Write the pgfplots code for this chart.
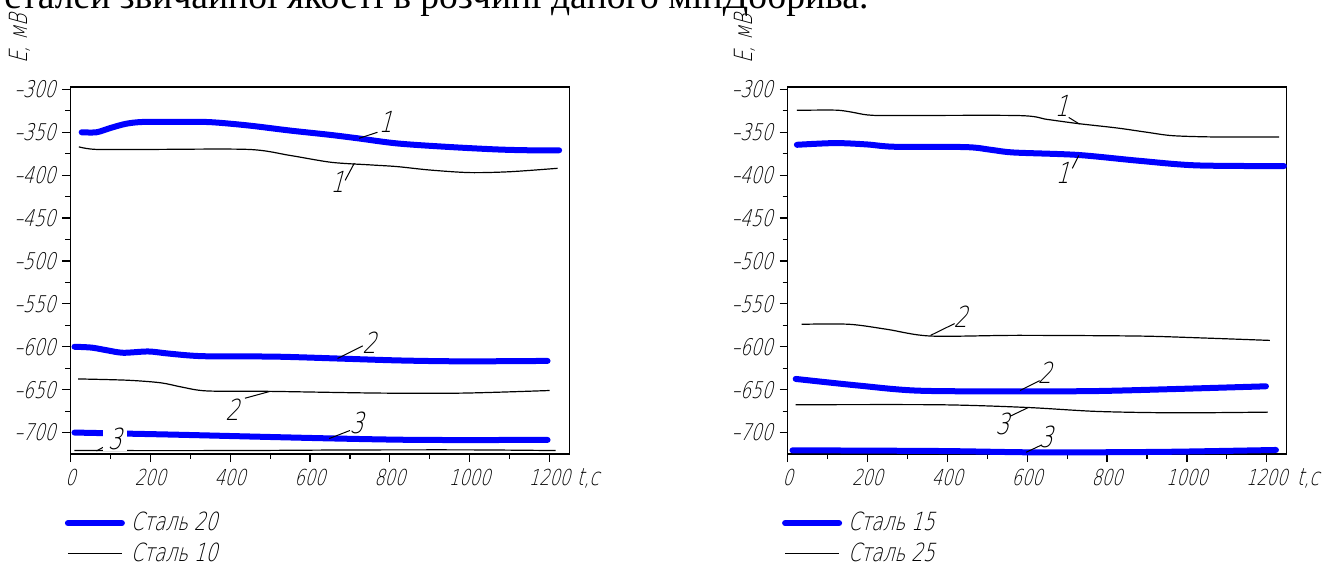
\documentclass[border=0pt]{standalone}
\usepackage{pgfplots}
\pgfplotsset{compat=1.18}
\usepackage{fontspec}
\setmainfont{DejaVu Sans}
\newfontfamily\gost{DejaVu Sans ExtraLight}[FakeSlant=0.27,FakeStretch=0.74]
\newfontfamily\tnr{Liberation Serif}
\definecolor{cblue}{RGB}{0,0,255}
\tikzset{
  lab/.style={font=\gost\fontsize{14.5}{15}\selectfont, inner sep=0.5pt},
  ld/.style={line width=0.5pt},
}
\pgfplotsset{
  gostax/.style={
    scale only axis, width=249.5pt, height=183.6pt,
    xmin=0, xmax=1250, ymin=-725, ymax=-297,
    axis line style={line width=0.7pt},
    tick align=outside, tick pos=left,
    xtick={0,200,...,1200},
    xticklabels={0,200,400,\raisebox{-6pt}{600},800,1000,1200},
    minor xtick={100,300,...,1100},
    ytick={-700,-650,...,-300},
    yticklabels={–700,–650,–600,–550,–500,–450,–400,–350,–300},
    minor ytick={-675,-625,...,-325},
    major tick length=4pt, minor tick length=2.5pt,
    tick style={black, line width=0.6pt},
    tick label style={font=\gost\fontsize{11.5}{12}\selectfont},
    xticklabel style={font=\gost\fontsize{11}{12}\selectfont},
    clip=false,
    legend style={draw=none, fill=none, at={(axis description cs:0,0)}, anchor=north west,
      xshift=-3pt, yshift=-28pt, inner sep=0pt, row sep=2.5pt,
      font=\gost\fontsize{12.5}{14}\selectfont,
      nodes={inner sep=1pt},
      /tikz/every odd column/.append style={column sep=2pt}},
    legend cell align=left,
    legend image code/.code={\draw[#1] (0pt,0pt) -- (27pt,0pt);},
  },
  bl/.style={cblue, line width=3pt, line cap=round, smooth},
  bk/.style={black, line width=0.6pt, smooth},
}
\begin{document}
\begin{tikzpicture}
\useasboundingbox (0,0) rectangle (662pt,281.5pt);
\node[anchor=base west, inner sep=0pt] at (2pt,277.25pt) {\resizebox{432pt}{!}{\tnr сталей звичайної якості в розчині даного мінДобрива.}};
\node[rotate=90, font=\gost\fontsize{12.5}{13}\selectfont] at (10pt,262pt) {E, мВ};
\node[rotate=90, font=\gost\fontsize{12.5}{13}\selectfont] at (372.5pt,262pt) {E, мВ};
\node[font=\gost\fontsize{12}{13}\selectfont] at (294pt,42.5pt) {t,с};
\node[font=\gost\fontsize{12}{13}\selectfont] at (654pt,42.5pt) {t,с};

% ---------- left panel ----------
\begin{axis}[gostax, at={(35.25pt,54.5pt)}, anchor=south west]
\addplot[bl] coordinates {(28,-350) (65,-350) (100,-345) (140,-340) (180,-338) (250,-338) (339,-338) (400,-340) (463,-343) (550,-348) (650,-353) (719,-357) (818,-363) (943,-367) (1067,-370) (1150,-371) (1224,-371)};
\addlegendentry{Сталь 20}
\addplot[bk] coordinates {(21,-367) (65,-370) (200,-370) (446,-370) (550,-377) (653,-385) (750,-388) (818,-390) (900,-394) (1000,-397) (1100,-396) (1220,-392)};
\addlegendentry{Сталь 10}
\addplot[bl, forget plot] coordinates {(10,-600) (53,-601) (90,-604) (132,-607) (195,-605.5) (247,-608) (332,-611) (511,-611.5) (669,-613.7) (827,-616) (985,-617) (1195,-616.5)};
\addplot[bk, forget plot] coordinates {(19,-637.5) (142,-639) (226,-642) (279,-647) (342,-651.5) (500,-652) (774,-654) (985,-654) (1200,-651)};
\addplot[bl, forget plot] coordinates {(10,-700) (247,-702.3) (458,-704.7) (669,-707) (879,-708.6) (1195,-708.6)};
\addplot[bk, forget plot] coordinates {(10,-721) (400,-721) (700,-720.3) (1000,-720.2) (1215,-721)};
% annotations
\draw[ld] (axis cs:723,-357) -- (axis cs:769,-350);
\node[lab] at (axis cs:789,-338) {1};
\draw[ld] (axis cs:688,-406) -- (axis cs:711,-386);
\node[lab] at (axis cs:668,-408) {1};
\draw[ld] (axis cs:669,-613.7) -- (axis cs:732,-599);
\node[lab] at (axis cs:748,-595) {2};
\draw[ld] (axis cs:437,-660) -- (axis cs:500,-652);
\node[lab] at (axis cs:405,-673) {2};
\draw[ld] (axis cs:648,-707) -- (axis cs:700,-697.6);
\node[lab] at (axis cs:716,-689) {3};
\draw[ld] (axis cs:65,-721.5) -- (axis cs:91,-714.8);
\node[lab, fill=white, inner xsep=2.5pt] at (axis cs:111,-707) {3};
\end{axis}

% ---------- right panel ----------
\begin{axis}[gostax, at={(393.85pt,54.5pt)}, anchor=south west]
\addplot[bl] coordinates {(23,-364.6) (119,-362.6) (199,-364.2) (268,-366.9) (447,-367.3) (510,-370.5) (567,-373.6) (726,-376.4) (875,-383) (1024,-388.6) (1243,-389.4)};
\addlegendentry{Сталь 15}
\addplot[bk] coordinates {(23,-324.4) (120,-324.2) (160,-326.5) (200,-329.8) (260,-330.5) (577,-330.5) (650,-335) (726,-339.8) (825,-345) (900,-350) (965,-354) (1074,-355.5) (1231,-355.5)};
\addlegendentry{Сталь 25}
\addplot[bk, forget plot] coordinates {(35,-573.8) (154,-573.8) (249,-579.7) (358,-587.5) (577,-586.7) (875,-587.5) (1024,-589.5) (1208,-592.6)};
\addplot[bl, forget plot] coordinates {(20,-637.5) (179,-645.3) (328,-651.2) (577,-652) (776,-651.6) (975,-649.2) (1198,-646.1)};
\addplot[bk, forget plot] coordinates {(20,-667.6) (378,-667.6) (597,-670.7) (776,-675.4) (975,-677) (1203,-676.2)};
\addplot[bl, forget plot] coordinates {(12,-720.7) (378,-721.5) (597,-723) (776,-723) (975,-722.3) (1223,-720.3)};
% annotations
\draw[ld] (axis cs:704,-332.7) -- (axis cs:731,-340.5);
\node[lab] at (axis cs:686,-319) {1};
\draw[ld] (axis cs:713,-392) -- (axis cs:729,-377);
\node[lab] at (axis cs:688,-397) {1};
\draw[ld] (axis cs:358,-586.7) -- (axis cs:418,-573);
\node[lab] at (axis cs:433,-565) {2};
\draw[ld] (axis cs:582,-651) -- (axis cs:631,-639.5);
\node[lab] at (axis cs:644,-630.5) {2};
\draw[ld] (axis cs:557,-681) -- (axis cs:602,-671);
\node[lab] at (axis cs:537,-690) {3};
\draw[ld] (axis cs:597,-723) -- (axis cs:636,-714.5);
\node[lab] at (axis cs:646,-704.7) {3};
\end{axis}
\end{tikzpicture}
\end{document}
